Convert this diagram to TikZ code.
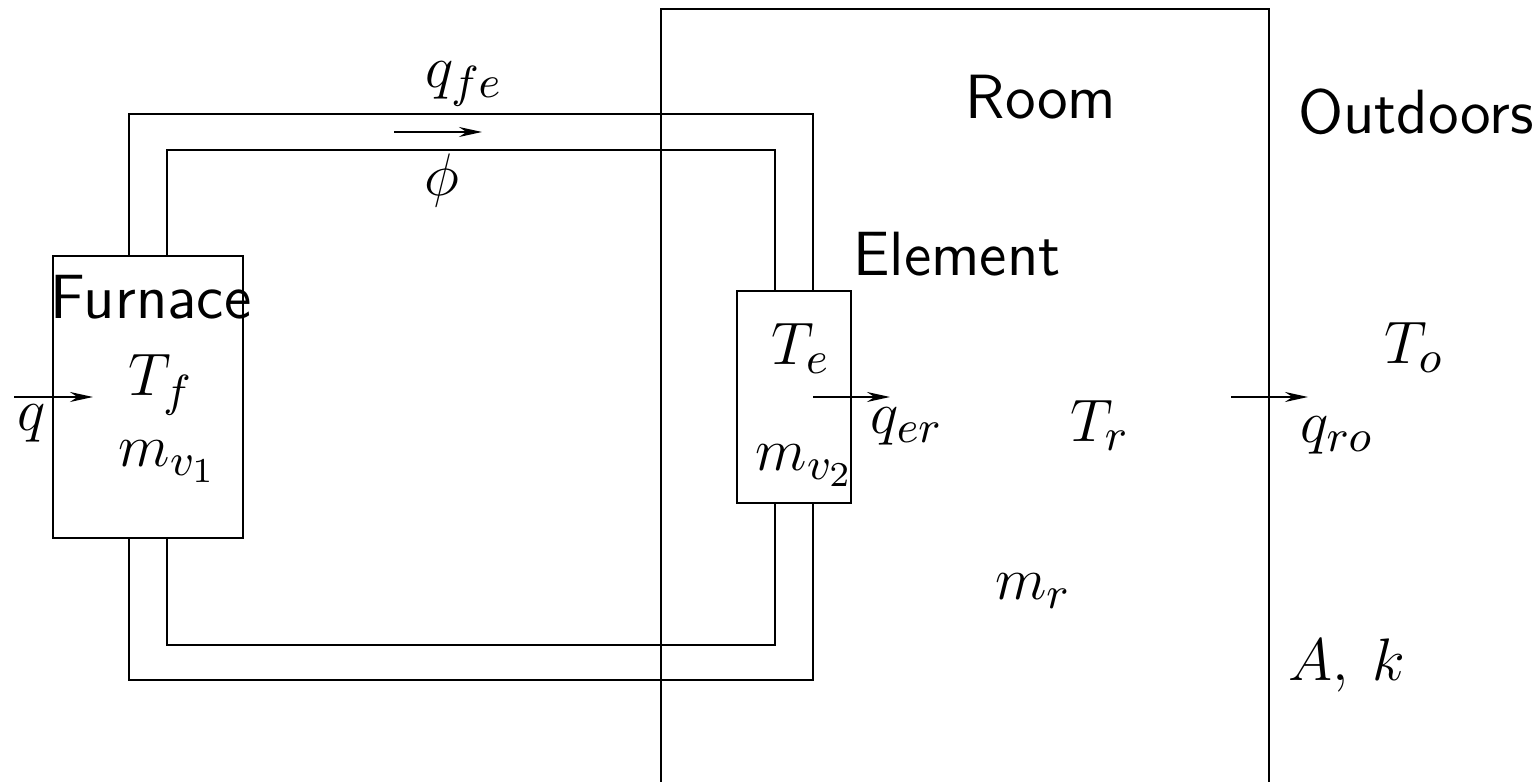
\documentclass[tikz,border=0pt]{standalone}
\usetikzlibrary{arrows.meta}
\DeclareMathSizes{12.3}{12.3}{9}{7}
\tikzset{
  x=0.2pt,y=-0.2pt,
  wire/.style={draw=black,line width=0.4pt},
  flow/.style={draw=black,line width=0.4pt,-{Stealth[length=4.6pt,width=2pt]}},
  lab/.style={inner sep=0pt,font=\fontsize{12.5}{14}\selectfont\sffamily},
  mlab/.style={inner sep=0pt,font=\fontsize{12.3}{14}\selectfont}
}
\begin{document}
\begin{tikzpicture}
\useasboundingbox (0,0) rectangle (1540,782);
% room
\coordinate (roomBL) at (660.5,782);
\coordinate (roomTL) at (660.5,9);
\coordinate (roomTR) at (1269,9);
\coordinate (roomBR) at (1269,782);
\draw[wire] (roomBL) -- (roomTL) -- (roomTR) -- (roomBR);
% boxes
\node[wire,inner sep=0pt,minimum width=37.9pt,minimum height=56.4pt,anchor=north west] (furnace) at (52,255) {};
\node[wire,inner sep=0pt,minimum width=22.8pt,minimum height=42.2pt,anchor=north west] (element) at (735.5,290.5) {};
% pipes
\coordinate (f1) at (128.5,255); \coordinate (f2) at (166.5,255);
\coordinate (f3) at (128.5,539); \coordinate (f4) at (166.5,539);
\coordinate (e1) at (812.5,291); \coordinate (e2) at (774.5,291);
\coordinate (e3) at (812.5,503); \coordinate (e4) at (774.5,503);
\draw[wire] (f1) -- (128.5,114) -- (812.5,114) -- (e1);
\draw[wire] (f2) -- (166.5,150) -- (774.5,150) -- (e2);
\draw[wire] (f3) -- (128.5,680) -- (812.5,680) -- (e3);
\draw[wire] (f4) -- (166.5,645) -- (774.5,645) -- (e4);
% arrows
\coordinate (a1) at (394,132); \coordinate (a2) at (482,132);
\coordinate (b1) at (14,397); \coordinate (b2) at (93,397);
\coordinate (c1) at (813,397); \coordinate (c2) at (890,397);
\coordinate (d1) at (1231,397); \coordinate (d2) at (1308,397);
\draw[flow] (a1) -- (a2);
\draw[flow] (b1) -- (b2);
\draw[flow] (c1) -- (c2);
\draw[flow] (d1) -- (d2);
% labels
\node[lab] (lroom) at (1041,97) {Room};
\node[lab] (lout) at (1416,112) {Outdoors};
\node[lab] (lel) at (957,254) {Element};
\node[lab] (lfu) at (151,297) {Furnace};
\node[mlab] (qfe) at (464,84) {$q_{fe}$};
\node[mlab] (phi) at (442,181) {$\phi$};
\node[mlab] (q) at (32,423) {$q$};
\node[mlab] (Tf) at (161,385) {$T_f$};
\node[mlab] (mv1) at (168,462) {$m_{v_1}$};
\node[mlab] (Te) at (801,349) {$T_e$};
\node[mlab] (mv2) at (805,466) {$m_{v_2}$};
\node[mlab] (qer) at (907,426) {$q_{er}$};
\node[mlab] (Tr) at (1100,426) {$T_r$};
\node[mlab] (qro) at (1337,435) {$q_{ro}$};
\node[mlab] (To) at (1414,348) {$T_o$};
\node[mlab] (mr) at (1033,591) {$m_r$};
\node[mlab] (Ak) at (1347,665) {$A,\:k$};
\end{tikzpicture}
\end{document}
